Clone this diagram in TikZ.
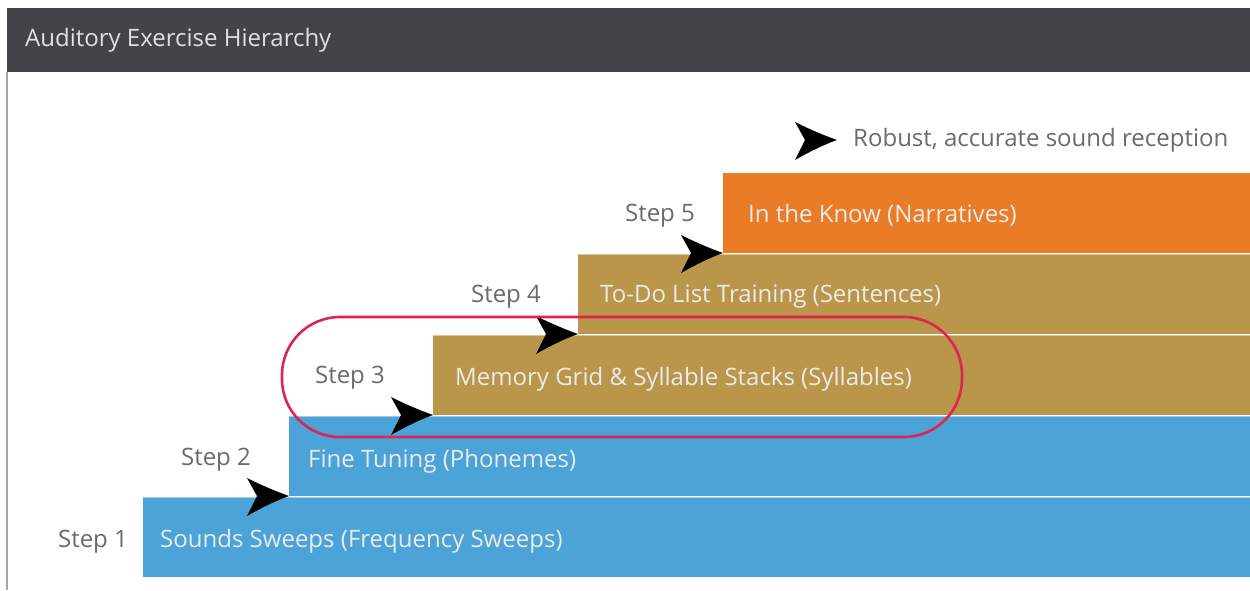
\documentclass[tikz,border=0pt]{standalone}
\usepackage{fontspec}
\setmainfont{Open Sans}
\begin{document}
\begin{tikzpicture}[x=1pt,y=-1pt,
  bar/.style={draw=none,anchor=north west,inner sep=0pt,outer sep=0pt,minimum height=80pt},
  bartext/.style={anchor=west,inner sep=0pt,text=white!92!black,font=\fontsize{24}{28}\selectfont},
  steplabel/.style={inner sep=0pt,text=black!58,font=\fontsize{24}{28}\selectfont},
  dart/.pic={\fill[black] (0,0) .. controls (-14,-5) and (-28,-11) .. (-42,-18) -- (-32,0) -- (-42,20) .. controls (-28,12) and (-14,5) .. (0,0) -- cycle;}
]
\definecolor{hdr}{RGB}{68,67,72}
\definecolor{sky}{RGB}{75,163,215}
\definecolor{tan}{RGB}{185,150,74}
\definecolor{orng}{RGB}{234,124,39}
\definecolor{ring}{RGB}{222,36,82}
\useasboundingbox (0,0) rectangle (1250,590);
\fill[white] (0,0) rectangle (1250,590);
% header
\node[bar,fill=hdr,minimum width=1243pt,minimum height=64pt] (hdr) at (7,8) {};
\node[anchor=west,inner sep=0pt,text=white!88!black,font=\fontsize{24}{28}\selectfont] (title) at (25,40) {Auditory Exercise Hierarchy};
\draw[black!35,line width=1.5pt] (hdr.south west) -- ++(0,518);
% bars
\node[bar,fill=sky,minimum width=1107pt] (b1) at (143,497) {};
\node[bar,fill=sky,minimum width=961pt] (b2) at (289,416) {};
\node[bar,fill=tan,minimum width=817pt] (b3) at (433,335) {};
\node[bar,fill=tan,minimum width=672pt] (b4) at (578,254) {};
\node[bar,fill=orng,minimum width=527pt] (b5) at (723,173) {};
\foreach \b in {b1,b2,b3,b4}{\draw[white,opacity=0.45,line width=1.2pt] (\b.north west) -- (\b.north east);}
% bar texts
\node[bartext] (t1) at (160,541) {Sounds Sweeps (Frequency Sweeps)};
\node[bartext] (t2) at (308,461) {Fine Tuning (Phonemes)};
\node[bartext] (t3) at (455,379) {Memory Grid \& Syllable Stacks (Syllables)};
\node[bartext] (t4) at (600,297) {To-Do List Training (Sentences)};
\node[bartext] (t5) at (748,215) {In the Know (Narratives)};
% step labels
\node[steplabel] (s1) at (93,542) {Step 1};
\node[steplabel] (s2) at (216,460) {Step 2};
\node[steplabel] (s3) at (350,378) {Step 3};
\node[steplabel] (s4) at (506,297) {Step 4};
\node[steplabel] (s5) at (660,216) {Step 5};
% darts
\pic at (b2.south west) {dart};
\pic at (b3.south west) {dart};
\pic at (b4.south west) {dart};
\pic at (b5.south west) {dart};
\coordinate (goal) at (837,140);
\pic at (goal) {dart};
\node[anchor=west,inner sep=0pt,text=black!58,font=\fontsize{24}{28}\selectfont] (robust) at (853,140) {Robust, accurate sound reception};
% highlight ring
\draw[ring,line width=2.6pt,rounded corners=58pt] (282,317) rectangle (962,437);
\end{tikzpicture}
\end{document}
